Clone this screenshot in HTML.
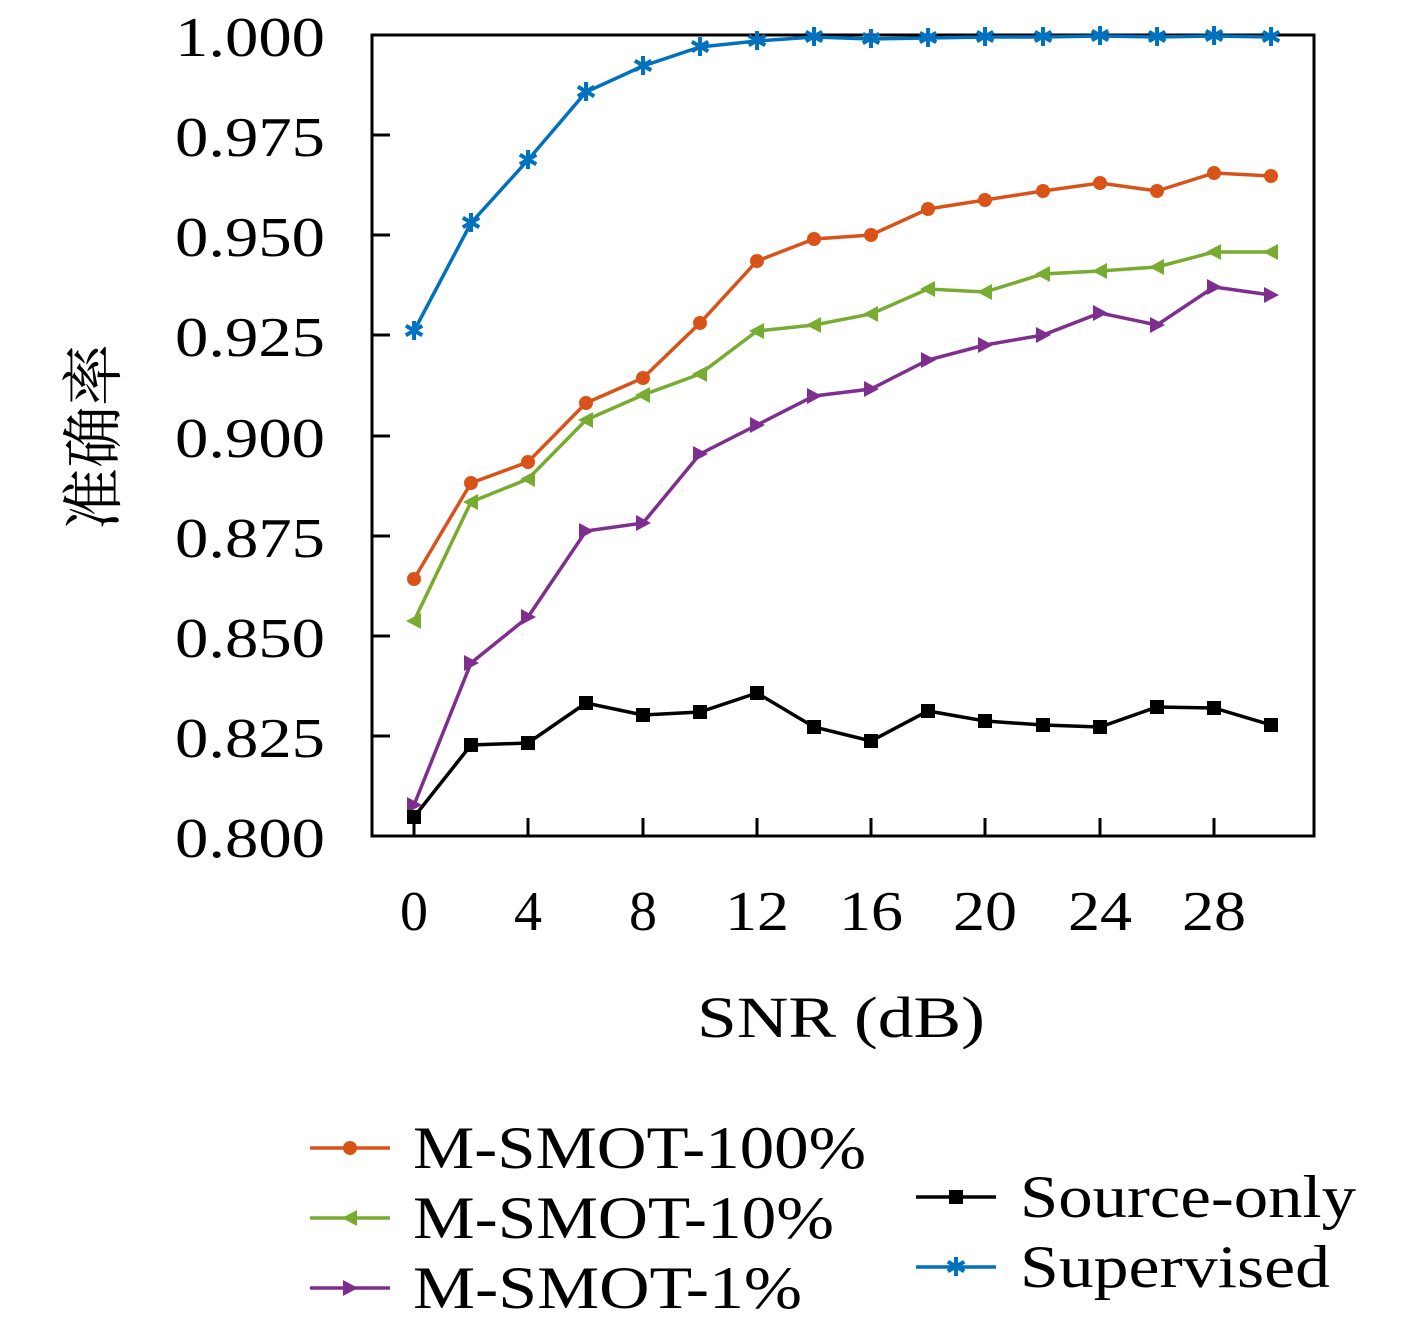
<!DOCTYPE html>
<html><head><meta charset="utf-8"><style>body{margin:0;background:#fff}svg{display:block}</style></head><body>
<svg width="1417" height="1325" xmlns="http://www.w3.org/2000/svg" font-family="Liberation Serif, serif">
<rect x="372" y="35" width="942" height="801" fill="none" stroke="#000" stroke-width="3"/>
<g stroke="#000" stroke-width="3">
<line x1="372" y1="135" x2="390" y2="135"/><line x1="372" y1="235" x2="390" y2="235"/><line x1="372" y1="335" x2="390" y2="335"/><line x1="372" y1="436" x2="390" y2="436"/><line x1="372" y1="536" x2="390" y2="536"/><line x1="372" y1="636" x2="390" y2="636"/><line x1="372" y1="736" x2="390" y2="736"/>
<line x1="414" y1="836" x2="414" y2="818"/><line x1="528" y1="836" x2="528" y2="818"/><line x1="643" y1="836" x2="643" y2="818"/><line x1="757" y1="836" x2="757" y2="818"/><line x1="871" y1="836" x2="871" y2="818"/><line x1="985" y1="836" x2="985" y2="818"/><line x1="1100" y1="836" x2="1100" y2="818"/><line x1="1214" y1="836" x2="1214" y2="818"/>
</g>
<g font-size="56">
<text x="175" y="56" textLength="150" lengthAdjust="spacingAndGlyphs">1.000</text><text x="175" y="156" textLength="150" lengthAdjust="spacingAndGlyphs">0.975</text><text x="175" y="256" textLength="150" lengthAdjust="spacingAndGlyphs">0.950</text><text x="175" y="356" textLength="150" lengthAdjust="spacingAndGlyphs">0.925</text><text x="175" y="457" textLength="150" lengthAdjust="spacingAndGlyphs">0.900</text><text x="175" y="557" textLength="150" lengthAdjust="spacingAndGlyphs">0.875</text><text x="175" y="657" textLength="150" lengthAdjust="spacingAndGlyphs">0.850</text><text x="175" y="757" textLength="150" lengthAdjust="spacingAndGlyphs">0.825</text><text x="175" y="857" textLength="150" lengthAdjust="spacingAndGlyphs">0.800</text>
</g>
<g font-size="56" text-anchor="middle">
<text x="414" y="930">0</text><text x="528" y="930">4</text><text x="643" y="930">8</text><text x="757" y="930" textLength="64" lengthAdjust="spacingAndGlyphs">12</text><text x="871" y="930" textLength="64" lengthAdjust="spacingAndGlyphs">16</text><text x="985" y="930" textLength="64" lengthAdjust="spacingAndGlyphs">20</text><text x="1100" y="930" textLength="64" lengthAdjust="spacingAndGlyphs">24</text><text x="1214" y="930" textLength="64" lengthAdjust="spacingAndGlyphs">28</text>
</g>
<text x="697" y="1037" font-size="58" textLength="288" lengthAdjust="spacingAndGlyphs">SNR (dB)</text>
<text transform="translate(115,437) rotate(-90)" font-size="62" text-anchor="middle" font-family="Noto Serif CJK SC, Noto Sans CJK SC, serif">准确率</text>
<g fill="none" stroke-width="3.5">
<polyline stroke="#0072BD" points="414,331 471,223 528,160 586,92 643,66 700,47 757,41 814,37 871,39 928,38 985,37 1043,37 1100,36 1157,37 1214,36 1271,37"/>
<polyline stroke="#D95319" points="414,579 471,483 528,462 586,403 643,378 700,323 757,261 814,239 871,235 928,209 985,200 1043,191 1100,183 1157,191 1214,173 1271,176"/>
<polyline stroke="#77AC30" points="414,621 471,502 528,479 586,420 643,395 700,374 757,331 814,325 871,314 928,289 985,292 1043,274 1100,271 1157,267 1214,252 1271,252"/>
<polyline stroke="#7E2F8E" points="414,805 471,663 528,617 586,531 643,523 700,454 757,425 814,396 871,389 928,360 985,345 1043,335 1100,313 1157,325 1214,287 1271,295"/>
<polyline stroke="#000" points="414,817 471,745 528,743 586,703 643,715 700,712 757,693 814,727 871,741 928,711 985,721 1043,725 1100,727 1157,707 1214,708 1271,725"/>
</g>
<g fill="#0072BD" font-size="26" text-anchor="middle" font-family="DejaVu Sans, sans-serif">
<text x="414" y="340">✱</text><text x="471" y="232">✱</text><text x="528" y="169">✱</text><text x="586" y="101">✱</text><text x="643" y="75">✱</text><text x="700" y="56">✱</text><text x="757" y="50">✱</text><text x="814" y="46">✱</text><text x="871" y="48">✱</text><text x="928" y="47">✱</text><text x="985" y="46">✱</text><text x="1043" y="46">✱</text><text x="1100" y="45">✱</text><text x="1157" y="46">✱</text><text x="1214" y="45">✱</text><text x="1271" y="46">✱</text>
</g>
<g fill="#D95319">
<circle cx="414" cy="579" r="7"/><circle cx="471" cy="483" r="7"/><circle cx="528" cy="462" r="7"/><circle cx="586" cy="403" r="7"/><circle cx="643" cy="378" r="7"/><circle cx="700" cy="323" r="7"/><circle cx="757" cy="261" r="7"/><circle cx="814" cy="239" r="7"/><circle cx="871" cy="235" r="7"/><circle cx="928" cy="209" r="7"/><circle cx="985" cy="200" r="7"/><circle cx="1043" cy="191" r="7"/><circle cx="1100" cy="183" r="7"/><circle cx="1157" cy="191" r="7"/><circle cx="1214" cy="173" r="7"/><circle cx="1271" cy="176" r="7"/>
</g>
<g fill="#77AC30">
<path d="M406,621 l15,-8 v16z M463,502 l15,-8 v16z M520,479 l15,-8 v16z M578,420 l15,-8 v16z M635,395 l15,-8 v16z M692,374 l15,-8 v16z M749,331 l15,-8 v16z M806,325 l15,-8 v16z M863,314 l15,-8 v16z M920,289 l15,-8 v16z M977,292 l15,-8 v16z M1035,274 l15,-8 v16z M1092,271 l15,-8 v16z M1149,267 l15,-8 v16z M1206,252 l15,-8 v16z M1263,252 l15,-8 v16z"/>
</g>
<g fill="#7E2F8E">
<path d="M422,805 l-15,-8 v16z M479,663 l-15,-8 v16z M536,617 l-15,-8 v16z M594,531 l-15,-8 v16z M651,523 l-15,-8 v16z M708,454 l-15,-8 v16z M765,425 l-15,-8 v16z M822,396 l-15,-8 v16z M879,389 l-15,-8 v16z M936,360 l-15,-8 v16z M993,345 l-15,-8 v16z M1051,335 l-15,-8 v16z M1108,313 l-15,-8 v16z M1165,325 l-15,-8 v16z M1222,287 l-15,-8 v16z M1279,295 l-15,-8 v16z"/>
</g>
<g fill="#000">
<rect x="407" y="810" width="14" height="14"/><rect x="464" y="738" width="14" height="14"/><rect x="521" y="736" width="14" height="14"/><rect x="579" y="696" width="14" height="14"/><rect x="636" y="708" width="14" height="14"/><rect x="693" y="705" width="14" height="14"/><rect x="750" y="686" width="14" height="14"/><rect x="807" y="720" width="14" height="14"/><rect x="864" y="734" width="14" height="14"/><rect x="921" y="704" width="14" height="14"/><rect x="978" y="714" width="14" height="14"/><rect x="1036" y="718" width="14" height="14"/><rect x="1093" y="720" width="14" height="14"/><rect x="1150" y="700" width="14" height="14"/><rect x="1207" y="701" width="14" height="14"/><rect x="1264" y="718" width="14" height="14"/>
</g>
<g stroke-width="3.5">
<line x1="310" y1="1148" x2="390" y2="1148" stroke="#D95319"/><circle cx="350" cy="1148" r="7" fill="#D95319"/>
<line x1="310" y1="1218" x2="390" y2="1218" stroke="#77AC30"/><path d="M342,1218 l15,-8 v16z" fill="#77AC30"/>
<line x1="310" y1="1288" x2="390" y2="1288" stroke="#7E2F8E"/><path d="M358,1288 l-15,-8 v16z" fill="#7E2F8E"/>
<line x1="916" y1="1197" x2="996" y2="1197" stroke="#000"/><rect x="949" y="1190" width="14" height="14"/>
<line x1="916" y1="1267" x2="996" y2="1267" stroke="#0072BD"/>
</g>
<text x="956" y="1276" fill="#0072BD" font-size="26" text-anchor="middle" font-family="DejaVu Sans, sans-serif">✱</text>
<g font-size="60">
<text x="413" y="1168" textLength="453" lengthAdjust="spacingAndGlyphs">M-SMOT-100%</text><text x="413" y="1238" textLength="421" lengthAdjust="spacingAndGlyphs">M-SMOT-10%</text><text x="413" y="1308" textLength="389" lengthAdjust="spacingAndGlyphs">M-SMOT-1%</text>
<text x="1020" y="1217" textLength="336" lengthAdjust="spacingAndGlyphs">Source-only</text><text x="1020" y="1287" textLength="310" lengthAdjust="spacingAndGlyphs">Supervised</text>
</g>
</svg>
</body></html>
